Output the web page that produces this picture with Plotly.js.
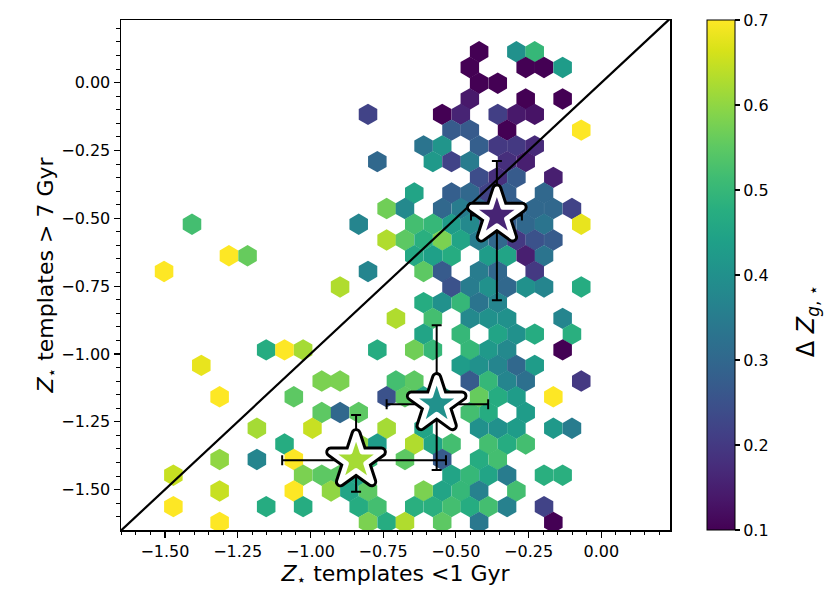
<!DOCTYPE html>
<html>
<head>
<meta charset="utf-8">
<script src="https://cdn.plot.ly/plotly-3.0.1.min.js"></script>
<style>
  body { margin: 0; background: #fff; }
  #chart { width: 830px; height: 615px; }
  path.point { stroke-linejoin: round; }
</style>
</head>
<body>
<div id="chart"></div>
<script>
// hexbin rows: one y per row, then the cell centres (x) and mean Delta Z of that row
var rowY = [0.114, 0.056, -0.002, -0.060, -0.117, -0.175, -0.233, -0.291, -0.349, -0.407,
            -0.464, -0.522, -0.580, -0.638, -0.696, -0.753, -0.811, -0.869, -0.927, -0.985,
            -1.042, -1.100, -1.158, -1.216, -1.274, -1.332, -1.389, -1.447, -1.505, -1.563, -1.621];

var rowX = [
  [-0.420, -0.292, -0.229],
  [-0.452, -0.260, -0.197, -0.133],
  [-0.420, -0.356],
  [-0.452, -0.260, -0.133],
  [-0.802, -0.547, -0.483, -0.356, -0.292, -0.229],
  [-0.515, -0.452, -0.324, -0.069],
  [-0.611, -0.547, -0.420, -0.356, -0.292, -0.229],
  [-0.770, -0.579, -0.515, -0.452, -0.324, -0.260],
  [-0.420, -0.356, -0.292, -0.165],
  [-0.643, -0.515, -0.452, -0.388, -0.324, -0.197],
  [-0.738, -0.675, -0.547, -0.483, -0.420, -0.356, -0.292, -0.229, -0.165, -0.101],
  [-1.407, -0.834, -0.643, -0.579, -0.515, -0.452, -0.388, -0.324, -0.260, -0.197, -0.069],
  [-0.738, -0.675, -0.611, -0.547, -0.483, -0.420, -0.356, -0.292, -0.229, -0.165],
  [-1.280, -1.216, -0.643, -0.579, -0.515, -0.388, -0.324, -0.260, -0.197],
  [-1.503, -0.802, -0.611, -0.547, -0.420, -0.356, -0.229],
  [-0.898, -0.515, -0.452, -0.388, -0.324, -0.260, -0.197, -0.069],
  [-0.611, -0.547, -0.483, -0.420, -0.356],
  [-0.706, -0.579, -0.452, -0.388, -0.324, -0.133],
  [-0.611, -0.483, -0.356, -0.292, -0.229, -0.101],
  [-1.152, -1.089, -1.025, -0.770, -0.643, -0.579, -0.452, -0.388, -0.324, -0.133],
  [-1.375, -0.483, -0.420, -0.356, -0.292, -0.229],
  [-0.961, -0.898, -0.706, -0.643, -0.452, -0.388, -0.324, -0.260, -0.069],
  [-1.312, -1.057, -0.738, -0.675, -0.611, -0.547, -0.420, -0.356, -0.292, -0.165],
  [-0.961, -0.898, -0.834, -0.579, -0.452, -0.388, -0.260],
  [-1.184, -0.993, -0.738, -0.611, -0.420, -0.356, -0.292, -0.165, -0.101],
  [-1.089, -0.834, -0.770, -0.643, -0.579, -0.515, -0.388, -0.324, -0.260],
  [-1.312, -1.184, -1.057, -0.866, -0.802, -0.675, -0.547, -0.420, -0.356],
  [-1.471, -1.025, -0.961, -0.898, -0.834, -0.515, -0.452, -0.388, -0.324, -0.197, -0.133],
  [-1.312, -1.057, -0.929, -0.866, -0.802, -0.611, -0.547, -0.483, -0.420, -0.292],
  [-1.471, -1.152, -1.025, -0.834, -0.770, -0.643, -0.579, -0.515, -0.452, -0.388, -0.324, -0.197],
  [-1.312, -0.802, -0.738, -0.675, -0.547, -0.420, -0.165]
];

var rowZ = [
  [0.10, 0.40, 0.50],
  [0.10, 0.10, 0.10, 0.43],
  [0.10, 0.10],
  [0.14, 0.10, 0.10],
  [0.22, 0.10, 0.16, 0.21, 0.14, 0.13],
  [0.27, 0.27, 0.10, 0.70],
  [0.33, 0.41, 0.28, 0.20, 0.20, 0.17],
  [0.30, 0.42, 0.22, 0.35, 0.18, 0.15],
  [0.24, 0.18, 0.27, 0.15],
  [0.45, 0.28, 0.30, 0.22, 0.28, 0.30],
  [0.57, 0.38, 0.30, 0.35, 0.30, 0.25, 0.28, 0.30, 0.30, 0.22],
  [0.52, 0.37, 0.52, 0.50, 0.43, 0.38, 0.25, 0.28, 0.30, 0.33, 0.68],
  [0.63, 0.55, 0.48, 0.58, 0.45, 0.35, 0.30, 0.20, 0.25, 0.27],
  [0.70, 0.56, 0.46, 0.44, 0.47, 0.43, 0.45, 0.15, 0.33],
  [0.70, 0.37, 0.55, 0.27, 0.35, 0.30, 0.20],
  [0.63, 0.25, 0.35, 0.40, 0.30, 0.40, 0.37, 0.47],
  [0.47, 0.40, 0.50, 0.33, 0.37],
  [0.63, 0.52, 0.38, 0.40, 0.40, 0.37],
  [0.45, 0.50, 0.45, 0.40, 0.47, 0.48],
  [0.47, 0.70, 0.62, 0.47, 0.57, 0.50, 0.50, 0.42, 0.38, 0.10],
  [0.68, 0.43, 0.40, 0.37, 0.30, 0.43],
  [0.58, 0.58, 0.52, 0.55, 0.27, 0.50, 0.37, 0.32, 0.20],
  [0.70, 0.55, 0.25, 0.55, 0.45, 0.45, 0.56, 0.47, 0.43, 0.70],
  [0.55, 0.30, 0.55, 0.45, 0.52, 0.47, 0.43],
  [0.62, 0.65, 0.62, 0.45, 0.40, 0.40, 0.43, 0.42, 0.35],
  [0.47, 0.60, 0.43, 0.63, 0.45, 0.52, 0.52, 0.47, 0.52],
  [0.60, 0.37, 0.70, 0.55, 0.50, 0.55, 0.27, 0.47, 0.52],
  [0.65, 0.58, 0.55, 0.55, 0.45, 0.45, 0.50, 0.45, 0.35, 0.48, 0.48],
  [0.65, 0.70, 0.60, 0.45, 0.55, 0.58, 0.45, 0.50, 0.36, 0.52],
  [0.70, 0.47, 0.47, 0.47, 0.52, 0.48, 0.48, 0.52, 0.47, 0.52, 0.36, 0.22],
  [0.70, 0.58, 0.47, 0.63, 0.55, 0.34, 0.10]
];

// median points with their spreads
var starX = [-0.359, -0.566, -0.843];
var starY = [-0.490, -1.185, -1.392];
var starZ = [0.16, 0.40, 0.62];
var errXMinus = [0.089, 0.172, 0.254];
var errXPlus = [0.086, 0.177, 0.309];
var errYMinus = [0.312, 0.243, 0.116];
var errYPlus = [0.201, 0.291, 0.167];

var xLimits = [-1.651, 0.236];
var yLimits = [-1.649, 0.231];

var hexX = [], hexY = [], hexZ = [];
for (var i = 0; i < rowY.length; i++) {
    for (var j = 0; j < rowX[i].length; j++) {
        hexX.push(rowX[i][j]);
        hexY.push(rowY[i]);
        hexZ.push(rowZ[i][j]);
    }
}

var font = 'DejaVu Sans, sans-serif';

var hexTrace = {
    x: hexX, y: hexY,
    type: 'scatter', mode: 'markers',
    marker: {
        symbol: 'hexagon', size: 21.4,
        color: hexZ, colorscale: 'Viridis', cmin: 0.1, cmax: 0.7,
        line: { width: 0 },
        showscale: true,
        colorbar: {
            thickness: 28, len: 1, lenmode: 'fraction',
            x: 1.067, xanchor: 'left', xpad: 0,
            y: 0.5, yanchor: 'middle', ypad: 0,
            outlinewidth: 1, outlinecolor: '#000',
            ticks: 'outside', ticklen: 5, tickwidth: 1.2, tickcolor: '#000',
            tickvals: [0.1, 0.2, 0.3, 0.4, 0.5, 0.6, 0.7],
            tickformat: '.1f',
            tickfont: { family: font, size: 16, color: '#000' }
        }
    },
    hoverinfo: 'skip'
};

var oneToOne = {
    x: xLimits, y: xLimits,
    type: 'scatter', mode: 'lines',
    line: { color: '#000', width: 2.2 },
    hoverinfo: 'skip'
};

var starBack = {
    x: starX, y: starY,
    type: 'scatter', mode: 'markers',
    marker: { symbol: 'star', size: 38, color: '#000', line: { color: '#000', width: 11 } },
    error_x: { type: 'data', symmetric: false, array: errXPlus, arrayminus: errXMinus,
               color: '#000', thickness: 2, width: 5 },
    error_y: { type: 'data', symmetric: false, array: errYPlus, arrayminus: errYMinus,
               color: '#000', thickness: 2, width: 5 },
    hoverinfo: 'skip'
};

var starFront = {
    x: starX, y: starY,
    type: 'scatter', mode: 'markers',
    marker: {
        symbol: 'star', size: 38,
        color: starZ, colorscale: 'Viridis', cmin: 0.1, cmax: 0.7, showscale: false,
        line: { color: '#fff', width: 5 }
    },
    hoverinfo: 'skip'
};

var axisBase = {
    showgrid: false, zeroline: false,
    showline: true, mirror: true, linecolor: '#000', linewidth: 1.5,
    ticks: 'outside', ticklen: 6, tickwidth: 1.2, tickcolor: '#000',
    tickvals: [-1.5, -1.25, -1.0, -0.75, -0.5, -0.25, 0.0],
    tickformat: '.2f',
    tickfont: { family: font, size: 16, color: '#000' },
    minor: { ticks: 'outside', dtick: 0.05, ticklen: 3.5, tickwidth: 1, tickcolor: '#000' }
};

var layout = {
    width: 830, height: 615,
    margin: { l: 121, r: 160, t: 20, b: 85 },
    paper_bgcolor: '#fff', plot_bgcolor: '#fff',
    showlegend: false,
    font: { family: font, color: '#000' },
    xaxis: Object.assign({}, axisBase, {
        range: xLimits,
        title: { text: '<i>Z</i><sub>\u22c6</sub> templates &lt;1 Gyr',
                 font: { family: font, size: 22, color: '#000' }, standoff: 4 }
    }),
    yaxis: Object.assign({}, axisBase, {
        range: yLimits,
        title: { text: '<i>Z</i><sub>\u22c6</sub> templates &gt; 7 Gyr',
                 font: { family: font, size: 22, color: '#000' }, standoff: 0 }
    }),
    annotations: [{
        xref: 'paper', yref: 'paper', x: 1.252, y: 0.41,
        xanchor: 'center', yanchor: 'middle', showarrow: false, textangle: -90,
        text: '\u0394 <i>Z</i><sub><i>g</i>, \u22c6</sub>',
        font: { family: font, size: 24, color: '#000' }
    }]
};

Plotly.newPlot('chart', [hexTrace, oneToOne, starBack, starFront], layout,
    { displayModeBar: false, staticPlot: true });
</script>
</body>
</html>
